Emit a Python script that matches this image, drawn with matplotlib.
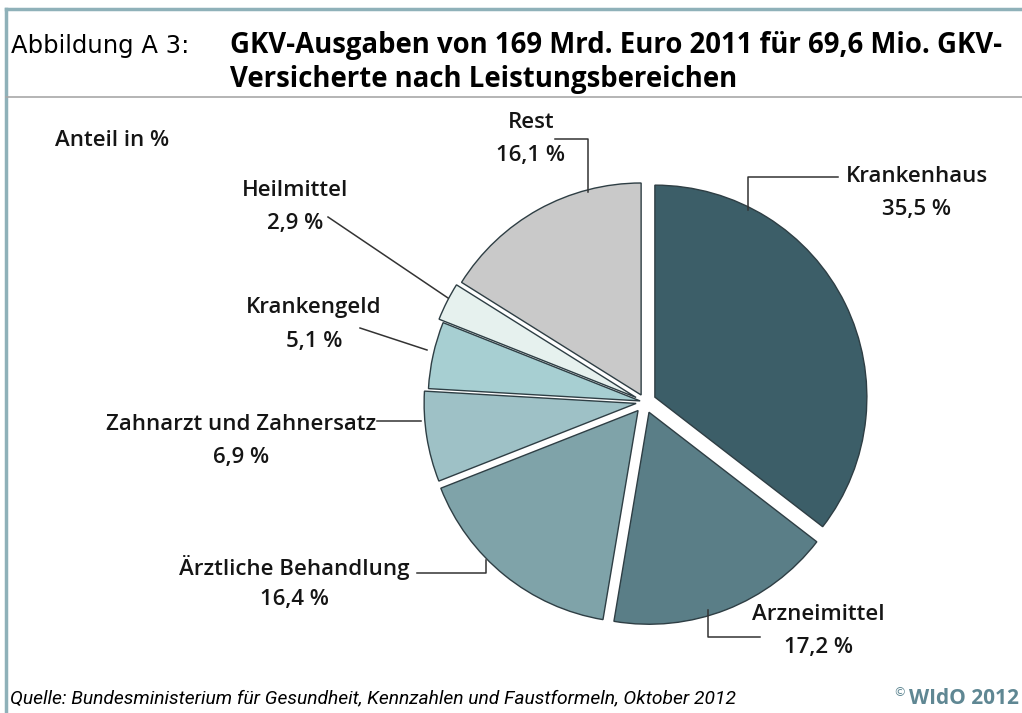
import matplotlib
matplotlib.use("Agg")
import matplotlib.pyplot as plt

# GKV-Ausgaben 2011 nach Leistungsbereichen, Anteil in %
categories = ["Krankenhaus", "Arzneimittel", "Ärztliche Behandlung",
              "Zahnarzt und Zahnersatz", "Krankengeld", "Heilmittel", "Rest"]
shares = [35.5, 17.2, 16.4, 6.9, 5.1, 2.9, 16.1]
share_labels = ["35,5 %", "17,2 %", "16,4 %", "6,9 %", "5,1 %", "2,9 %", "16,1 %"]

colors = ["#3c5e68", "#5a7e87", "#7fa3a9", "#9ec1c6", "#a7cfd2", "#e6f1ee", "#c9c9c9"]
explode = [11, 11, 11, 9, 5, 10, 8]   # pixels

W, H = 1022, 713
fig = plt.figure(figsize=(W / 100, H / 100), dpi=100)
ax = fig.add_axes([0, 0, 1, 1])

# pie in pixel coordinates (y grows downwards)
ax.pie(shares, colors=colors, explode=explode, radius=212, center=(645, 402),
       startangle=-90, counterclock=True,
       wedgeprops=dict(edgecolor="#2e3e44", linewidth=1.0))
ax.set_xlim(0, W)
ax.set_ylim(H, 0)
ax.set_aspect("auto")
ax.axis("off")

# frame of the figure
border = "#8fb1b9"
ax.plot([6, W], [9, 9], color=border, lw=2.5, clip_on=False)
ax.plot([6, 6], [9, H], color=border, lw=2.5, clip_on=False)
ax.plot([6, W], [97, 97], color="#a8a8a8", lw=1.2, clip_on=False)

# title
ax.text(11, 46, "Abbildung A 3:", fontsize=17.5, family=["DejaVu Sans"],
        ha="left", va="center")
ax.text(230, 46, "GKV-Ausgaben von 169 Mrd. Euro 2011 für 69,6 Mio. GKV-", fontsize=19.8,
        family=["Open Sans", "DejaVu Sans"], weight="bold", ha="left", va="center")
ax.text(230, 80, "Versicherte nach Leistungsbereichen", fontsize=19.8,
        family=["Open Sans", "DejaVu Sans"], weight="bold", ha="left", va="center")

lab = dict(fontsize=16, family=["Open Sans", "DejaVu Sans"], weight=600,
           ha="center", va="center", color="#151515")
ax.text(55, 140, "Anteil in %", **{**lab, "ha": "left"})

# label positions: (x, y name, y value)
label_pos = {
    "Krankenhaus": (917, 177, 210),
    "Arzneimittel": (818, 615, 647),
    "Ärztliche Behandlung": (294, 568, 600),
    "Zahnarzt und Zahnersatz": (241, 425, 457),
    "Krankengeld": (314, 307, 342),
    "Heilmittel": (295, 190, 223),
    "Rest": (531, 123, 156),
}
for name, val in zip(categories, share_labels):
    x, y1, y2 = label_pos[name]
    ax.text(x, y1, name, **lab)
    ax.text(x, y2, val, **lab)

# leader lines
leaders = [
    ([838, 748, 748], [177, 177, 210]),
    ([760, 708, 708], [637, 637, 610]),
    ([417, 486, 486], [573, 573, 560]),
    ([377, 421], [421, 421]),
    ([360, 427], [328, 350]),
    ([328, 448], [217, 298]),
    ([555, 588, 588], [139, 139, 192]),
]
for xs, ys in leaders:
    ax.plot(xs, ys, color="#333333", lw=1.1)

# source and copyright
ax.text(10, 698, "Quelle: Bundesministerium für Gesundheit, Kennzahlen und Faustformeln, Oktober 2012",
        fontsize=13.9, style="italic", family=["Roboto", "DejaVu Sans"],
        ha="left", va="center")
ax.text(893, 693, "©", fontsize=9, color="#5f8793", ha="left", va="center")
ax.text(909, 699, "WIdO 2012", fontsize=15, weight="bold", color="#5f8793",
        family=["Open Sans", "DejaVu Sans"], ha="left", va="center")

fig.savefig("out.png", dpi=100)
